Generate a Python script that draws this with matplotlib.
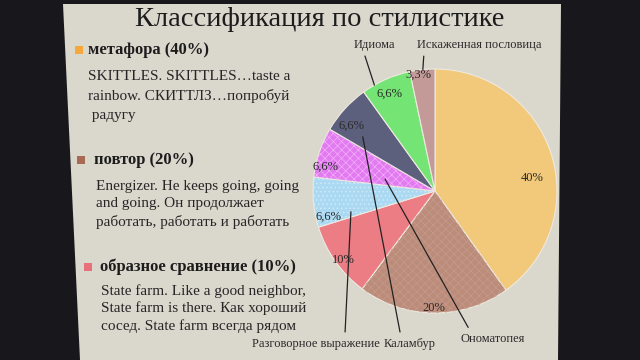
import matplotlib.pyplot as plt
from matplotlib.patches import Polygon, Rectangle
import numpy as np

# ---------------------------------------------------
# DATA
# ---------------------------------------------------
title = "Классификация по стилистике"

shares = [40, 20, 10, 6.6, 6.6, 6.6, 6.6, 3.3]
share_labels = ["40%", "20%", "10%", "6,6%", "6,6%", "6,6%", "6,6%", "3,3%"]
categories = ["Метафора", "Повтор", "Образное сравнение", "Разговорное выражение",
              "Ономатопея", "Каламбур", "Идиома", "Искаженная пословица"]
colors = ["#f2c97a", "#bb8c7a", "#ec7d84", "#abd9f2",
          "#e27af0", "#5c607c", "#74e474", "#c39a98"]
hatches = [None, "xxxx", None, "....", "xxxx", None, None, None]
hatch_colors = [None, "#c69a8a", None, "#d2ecfa", "#f3b0fa", None, None, None]

headings = ["метафора (40%)", "повтор (20%)", "образное сравнение (10%)"]
examples = [
    "SKITTLES. SKITTLES…taste a\nrainbow. СКИТТЛЗ…попробуй\n радугу",
    "Energizer. He keeps going, going\nand going. Он продолжает\nработать, работать и работать",
    "State farm. Like a good neighbor,\nState farm is there. Как хороший\nсосед. State farm всегда рядом",
]

plt.rcParams['font.family'] = ['Liberation Serif', 'DejaVu Serif']
plt.rcParams['hatch.linewidth'] = 0.5

fig = plt.figure(figsize=(6.4, 3.6), dpi=100)
fig.patch.set_facecolor("#18181c")

# background axes in pixel coordinates
bg = fig.add_axes([0, 0, 1, 1])
bg.set_xlim(0, 640)
bg.set_ylim(360, 0)
bg.axis("off")

slide = Polygon([(63, 4), (561, 4), (558, 360), (80, 360)], closed=True,
                facecolor="#dad7cd", edgecolor="none")
bg.add_patch(slide)

bg.text(320, 19, title, fontsize=20.5, color="#1c1c1c", ha="center", va="center")

# left column: headings + examples
head_pos = [(79, 88, 50), (81, 94, 160), (88, 100, 267)]
text_pos = [(88, 70), (96, 180), (101, 284)]
line_gap = [1.55, 1.42, 1.34]
bullet_colors = ["#f5a93a", "#a86a52", "#e8707a"]
for i in range(3):
    bx, hx, hy = head_pos[i]
    bg.add_patch(Rectangle((bx - 4, hy - 4), 8, 8, facecolor=bullet_colors[i], edgecolor="none"))
    bg.text(hx, hy, headings[i], fontsize=12, fontweight="bold", color="#1c1c1c",
            ha="left", va="center")
    tx, ty = text_pos[i]
    bg.text(tx, ty, examples[i], fontsize=11, color="#262626", ha="left", va="top",
            linespacing=line_gap[i])

# ---------------------------------------------------
# PIE
# ---------------------------------------------------
cx, cy, r = 435, 191, 122
ax = fig.add_axes([(cx - r) / 640, 1 - (cy + r) / 360, 2 * r / 640, 2 * r / 360])
wedges, _ = ax.pie(shares, colors=colors, startangle=90, counterclock=False,
                   wedgeprops=dict(edgecolor="#eeeae0", linewidth=0.8))
# dotted / cross-hatched texture on some slices
overlay, _ = ax.pie(shares, colors=["none"] * len(shares), startangle=90,
                    counterclock=False, wedgeprops=dict(linewidth=0))
for w, h, hc in zip(overlay, hatches, hatch_colors):
    if h:
        w.set_hatch(h)
        w.set_edgecolor(hc)
    else:
        w.set_visible(False)
ax.set_xlim(-1, 1)
ax.set_ylim(-1, 1)
ax.axis("off")

label_dist = [0.8, 0.96, 0.94, 0.9, 0.92, 0.87, 0.88, 0.96]
label_turn = [-10, 0, 2, 8, 6, 4.5, 1, 2]
for w, lab, d, t in zip(wedges, share_labels, label_dist, label_turn):
    mid = np.deg2rad((w.theta1 + w.theta2) / 2 + t)
    ax.text(d * np.cos(mid), d * np.sin(mid), lab, fontsize=9, color="#2a2a2a",
            ha="center", va="center")

# category names with leader lines (small slices only)
# name: (text position, fraction across wedge, radius, line anchor on text)
callouts = {
    "Идиома": ((-0.5, 1.20), 0.75, 1.0, (0.24, 0.0)),
    "Искаженная пословица": ((0.36, 1.20), 0.48, 1.0, (0.06, 0.0)),
    "Разговорное выражение": ((-0.98, -1.25), 0.86, 0.71, (0.73, 1.0)),
    "Каламбур": ((-0.21, -1.25), 0.73, 0.74, (0.34, 1.0)),
    "Ономатопея": ((0.47, -1.21), 0.72, 0.42, (0.17, 1.0)),
}
for name, (txt, f, rr, rel) in callouts.items():
    w = wedges[categories.index(name)]
    ang = np.deg2rad(w.theta1 + f * (w.theta2 - w.theta1))
    ax.annotate(name, xy=(rr * np.cos(ang), rr * np.sin(ang)), xytext=txt,
                fontsize=9, color="#2a2a2a", ha="center", va="center",
                annotation_clip=False,
                arrowprops=dict(arrowstyle="-", color="#222222", lw=0.9,
                                relpos=rel, shrinkA=2, shrinkB=0))

fig.savefig("out.png", dpi=100, facecolor=fig.get_facecolor())
